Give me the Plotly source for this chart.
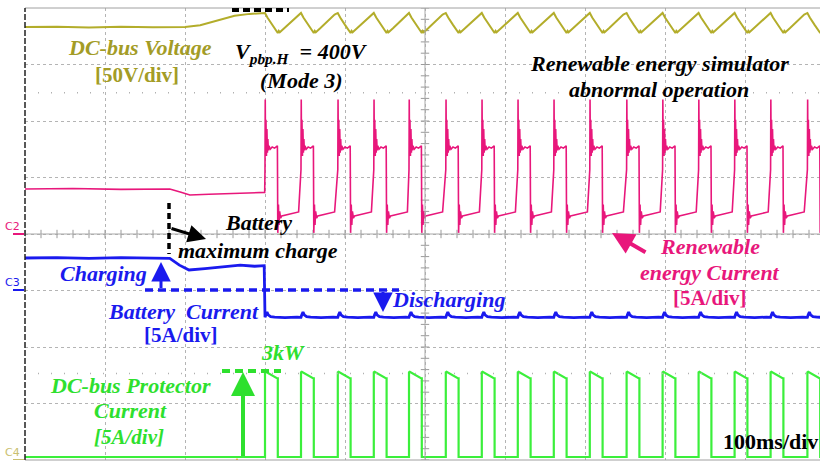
import numpy as np
import plotly.graph_objects as go

# ---------------- data ----------------
# time base: 100 ms/div, 10 div; values in physical units
pulse_start_ms = [300, 345, 391, 436, 480, 526, 571, 616, 661, 706, 752, 797, 842, 887, 932, 978]

# DC-bus voltage (V), 50 V/div
vbus_pre_t = [0, 40, 80, 120, 160, 200, 219, 238, 262, 281, 298]
vbus_pre_v = [387.5, 387.8, 387.2, 387.7, 387.4, 387.6, 389.2, 392.8, 397.6, 399.2, 399.8]
vbus_cyc_t = [0, 3, 9, 16, 17.2, 18.5, 24, 30, 36, 42]          # offset from pulse start
vbus_cyc_v = [400.0, 396.0, 389.5, 382.3, 384.2, 383.0, 386.5, 390.6, 394.6, 398.6]

# renewable energy current (A), 5 A/div
ire_pre_t = [0, 60, 120, 181, 195, 206, 230, 260, 290, 299.6]
ire_pre_a = [3.98, 4.03, 3.95, 3.98, 3.70, 3.45, 3.52, 3.60, 3.65, 3.68]
ire_cyc_t = [0, 0.3, 0.6, 1.2, 1.8, 2.4, 3.0, 3.6, 4.2, 5.0, 6.5, 9.0, 12.0, 15.5,
             16.0, 16.8, 17.5, 18.3, 19.5, 21.0, 30.0, 42.0]
ire_cyc_a = [5.7, 11.9, 8.3, 10.1, 6.9, 9.3, 7.2, 8.4, 7.4, 7.8, 7.5, 7.7, 7.6, 7.8,
             0.1, 2.6, 0.8, 2.0, 1.4, 1.6, 1.75, 1.95]

# battery current (A), 5 A/div
ibat_pre_t = [0, 40, 80, 120, 160, 181, 193, 205, 225, 245, 269, 287, 299]
ibat_pre_a = [2.83, 2.87, 2.80, 2.86, 2.82, 2.80, 2.20, 1.77, 1.90, 2.05, 2.20, 2.10, 2.15]
ibat_cyc_t = [0, 1, 2.5, 4, 7, 12, 25, 40]
ibat_cyc_a = [-2.42, -2.20, -1.95, -2.20, -2.35, -2.40, -2.44, -2.40]

# DC-bus protector current (A), 5 A/div
iprot_on_a = [7.5, 7.55, 6.95]      # level at rise, just after rise, before fall
iprot_on_t = [0, 1.0, 15.5]
iprot_width_ms = 16

# channel positions (div from centre)
POS_V, POS_RE, POS_BAT, POS_PROT = -4.088, 0.0, -0.991, -3.947

# ---------------- build waveforms ----------------
def build(pre_t, pre_y, cyc_t, cyc_y):
    t, y = list(pre_t), list(pre_y)
    for s in pulse_start_ms:
        t += [s + d for d in cyc_t]
        y += list(cyc_y)
    return np.array(t), np.array(y)

vt, vv = build(vbus_pre_t, vbus_pre_v, vbus_cyc_t, vbus_cyc_v)
rt, ra = build(ire_pre_t, ire_pre_a, ire_cyc_t, ire_cyc_a)
bt, ba = build(ibat_pre_t, ibat_pre_a, ibat_cyc_t, ibat_cyc_a)

gt, ga = [0], [0.0]
for s in pulse_start_ms:
    gt += [s, s, s + iprot_on_t[1], s + iprot_on_t[2], s + iprot_width_ms, s + iprot_width_ms]
    ga += [0.0, iprot_on_a[0], iprot_on_a[1], iprot_on_a[2], iprot_on_a[2], 0.0]
gt += [1000]
ga += [0.0]
gt, ga = np.array(gt), np.array(ga)

C_YEL, C_YEL_T = "#b3ad2b", "#a39c26"
C_PINK = "#e8177b"
C_BLUE = "#1a1aee"
C_GRN, C_GRN_T = "#3bef3b", "#2ee02e"
FONT = "Liberation Serif, Times New Roman, serif"

fig = go.Figure()

# graticule centre-line ticks
fig.add_trace(go.Scatter(x=list(range(0, 1000, 20)), y=[0] * 50, mode="markers",
                         marker=dict(symbol="line-ns", size=6, line=dict(color="#9a9a9a", width=1)),
                         hoverinfo="skip"))
fig.add_trace(go.Scatter(x=[500] * 41, y=[-4 + 0.2 * i for i in range(41)], mode="markers",
                         marker=dict(symbol="line-ew", size=6, line=dict(color="#9a9a9a", width=1)),
                         hoverinfo="skip"))

fig.add_trace(go.Scatter(x=vt, y=vv / 50 + POS_V, mode="lines",
                         line=dict(color=C_YEL, width=2), hoverinfo="skip"))
fig.add_trace(go.Scatter(x=rt, y=ra / 5 + POS_RE, mode="lines",
                         line=dict(color=C_PINK, width=1.6), hoverinfo="skip"))
fig.add_trace(go.Scatter(x=bt, y=ba / 5 + POS_BAT, mode="lines",
                         line=dict(color=C_BLUE, width=2.8), hoverinfo="skip"))
fig.add_trace(go.Scatter(x=gt, y=ga / 5 + POS_PROT, mode="lines",
                         line=dict(color=C_GRN, width=2.2), hoverinfo="skip"))


def X(px):
    return (px - 25) * 1.25


def Y(py):
    return (234 - py) / 56.5


shapes = [
    dict(type="line", xref="paper", yref="paper", x0=0, x1=1, y0=1, y1=1, line=dict(color="#a0a0a0", width=1)),
    dict(type="line", xref="paper", yref="paper", x0=0, x1=1, y0=0, y1=0, line=dict(color="#a0a0a0", width=1)),
    dict(type="line", xref="paper", yref="y", x0=0, x1=1, y0=0, y1=0, line=dict(color="#a8a8a8", width=1)),
    dict(type="line", xref="x", yref="paper", x0=500, x1=500, y0=0, y1=1, line=dict(color="#a8a8a8", width=1)),
    dict(type="line", xref="paper", yref="y", x0=0, x1=1, y0=2.5, y1=2.5,
         line=dict(color="#b0b0b0", width=1.5, dash="1px,12px")),
    dict(type="line", xref="paper", yref="y", x0=0, x1=1, y0=-2.47, y1=-2.47,
         line=dict(color="#b0b0b0", width=1.5, dash="1px,12px")),
    dict(type="line", xref="paper", yref="paper", x0=0, x1=0, y0=0, y1=1,
         line=dict(color="#222222", width=1.5, dash="6px,2px")),
    # annotation dashed markers
    dict(type="line", x0=X(232), x1=X(289), y0=Y(10), y1=Y(10), layer="above",
         line=dict(color="black", width=4, dash="7px,4px")),
    dict(type="line", x0=X(169), x1=X(169), y0=Y(203), y1=Y(254), layer="above",
         line=dict(color="black", width=3.5, dash="6px,4px")),
    dict(type="line", x0=X(145), x1=X(399), y0=Y(290), y1=Y(290), layer="above",
         line=dict(color=C_BLUE, width=3.5, dash="8px,5px")),
    dict(type="line", x0=X(222), x1=X(281), y0=Y(371), y1=Y(371), layer="above",
         line=dict(color=C_GRN_T, width=4, dash="8px,5px")),
    # channel markers
    dict(type="line", xref="paper", yref="y", x0=-12 / 795, x1=-1 / 795, y0=Y(234), y1=Y(234),
         line=dict(color=C_PINK, width=2)),
    dict(type="line", xref="paper", yref="y", x0=-12 / 795, x1=-1 / 795, y0=Y(290), y1=Y(290),
         line=dict(color=C_BLUE, width=2)),
    dict(type="line", xref="paper", yref="y", x0=-12 / 795, x1=-1 / 795, y0=Y(460), y1=Y(460),
         line=dict(color="#c9c070", width=2)),
    # trigger marker
    dict(type="path", path=f"M {X(234)},{Y(463)} L {X(240)},{Y(463)} L {X(237)},{Y(458)} Z",
         fillcolor="#e0a030", line=dict(width=0)),
]

annotations = []


def txt(s, cx, cy, color, size=22, bold=True, italic=True):
    t = s
    if italic:
        t = "<i>" + t + "</i>"
    if bold:
        t = "<b>" + t + "</b>"
    annotations.append(dict(text=t, x=X(cx), y=Y(cy), xref="x", yref="y", showarrow=False,
                            xanchor="center", yanchor="middle",
                            font=dict(family=FONT, size=size, color=color)))


def arrow(hx, hy, tx, ty, color, width, size=1.0):
    annotations.append(dict(x=X(hx), y=Y(hy), xref="x", yref="y", showarrow=True, text=" ",
                            ax=tx - hx, ay=ty - hy, arrowhead=2, arrowsize=size,
                            arrowwidth=width, arrowcolor=color, standoff=0, startstandoff=0,
                            font=dict(size=1)))


txt("DC-bus Voltage", 140, 47, C_YEL_T)
txt("[50V/div]", 137, 75, C_YEL_T, size=21, italic=False)
txt("V<sub>pbp.H</sub>&nbsp; = 400V", 301, 53, "black")
txt("(Mode 3)", 301, 80, "black")
txt("Renewable energy simulator", 659, 63, "black")
txt("abnormal operation", 659, 89, "black")
txt("Battery", 258, 222, "black")
txt("maximum charge", 258, 250, "black")
txt("Charging", 103, 273, C_BLUE)
txt("Battery&nbsp; Current", 183, 311, C_BLUE)
txt("[5A/div]", 181, 335, C_BLUE, size=21, italic=False)
txt("Discharging", 448, 299, C_BLUE)
txt("Renewable", 710, 246, C_PINK)
txt("energy Current", 710, 272, C_PINK)
txt("[5A/div]", 710, 298, C_PINK, size=21, italic=False)
txt("3kW", 283, 352, C_GRN_T)
txt("DC-bus Protector", 130, 385, C_GRN_T)
txt("Current", 130, 410, C_GRN_T)
txt("[5A/div]", 129, 437, C_GRN_T, size=21)
txt("100ms/div", 770, 441, "black", size=22, italic=False)

arrow(206, 239, 170, 228, "black", 3, 1.2)
arrow(161, 262, 161, 290, C_BLUE, 3, 1.3)
arrow(383, 312, 383, 290, C_BLUE, 3, 1.3)
arrow(612, 233, 647, 253, C_PINK, 4, 1.1)
arrow(243, 372, 243, 458, C_GRN_T, 4, 1.2)

for lab, py, col in [("C2", 226, C_PINK), ("C3", 282, C_BLUE), ("C4", 452, "#c9c070")]:
    annotations.append(dict(text=lab, xref="paper", yref="y", x=-13 / 795, y=Y(py), showarrow=False,
                            xanchor="center", yanchor="middle",
                            font=dict(family="DejaVu Sans", size=11, color=col)))

fig.update_layout(
    width=820, height=463, margin=dict(l=25, r=0, t=8, b=3),
    paper_bgcolor="white", plot_bgcolor="white", showlegend=False,
    shapes=shapes, annotations=annotations,
)
fig.update_xaxes(range=[0, 993.75], dtick=100, tick0=0, showgrid=True, gridcolor="#b4b4b4",
                 griddash="dot", gridwidth=1, showticklabels=False, zeroline=False, ticks="",
                 showline=False, fixedrange=True)
fig.update_yaxes(range=[-4, 4], dtick=1, tick0=0, showgrid=True, gridcolor="#b4b4b4",
                 griddash="dot", gridwidth=1, showticklabels=False, zeroline=False, ticks="",
                 showline=False, fixedrange=True)

fig.write_html("out.html")
